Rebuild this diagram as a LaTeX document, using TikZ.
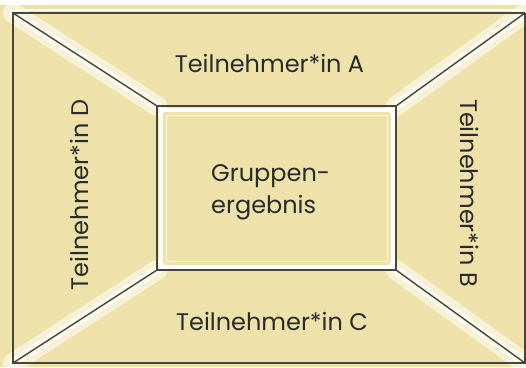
\documentclass[tikz,border=0pt]{standalone}
\usepackage{fontspec}
\setmainfont{Poppins}
\usetikzlibrary{positioning}
\definecolor{sand}{RGB}{238,226,170}
\definecolor{frameline}{RGB}{72,70,58}
\definecolor{labeltext}{RGB}{42,42,42}
\tikzset{%
frame/.style={draw=frameline,line width=2pt},
diagonal/.style={draw=frameline,line width=1.4pt},
haze/.style={draw=white,line width=#1,opacity=0.55,line cap=round},
haze/.default=14pt,
seat/.style={font=\fontsize{24}{28}\selectfont,text=labeltext,inner sep=0pt},
result/.style={font=\fontsize{24}{32}\selectfont,text=labeltext,align=left,inner sep=0pt}
}

\begin{document}
\begin{tikzpicture}[x=1pt,y=-1pt]

    \useasboundingbox (0,0) rectangle (526,367);
    \clip (0,0) rectangle (526,367);
    \fill[sand] (0,0) rectangle (526,367);
    \fill[white] (0,0) rectangle (526,5);

    \coordinate (o-nw) at (13,13);
    \coordinate (o-ne) at (525,13);
    \coordinate (o-sw) at (13,363);
    \coordinate (o-se) at (525,363);
    \coordinate (i-nw) at (157,106);
    \coordinate (i-ne) at (396,106);
    \coordinate (i-sw) at (157,270);
    \coordinate (i-se) at (396,270);

    \foreach \a/\b in {o-nw/i-nw,o-ne/i-ne,o-sw/i-sw,o-se/i-se} {
        \draw[haze=20pt] (\a) -- (\b);
        \draw[haze=9pt] (\a) -- (\b);
    }

    \draw[white,line width=2pt] ([yshift=3.5pt]o-nw) -- ([yshift=3.5pt]o-ne);
    \draw[white,line width=4pt] ([shift={(3.5,3.5)}]i-nw) rectangle ([shift={(-3.5,-3.5)}]i-se);
    \draw[white,line width=1pt,opacity=0.7] ([shift={(9,9)}]i-nw) rectangle ([shift={(-9,-9)}]i-se);

    \draw[frame] (o-ne) -- (o-nw) -- (o-sw) -- (o-se) -- (o-ne);
    \foreach \a/\b in {o-nw/i-nw,o-ne/i-ne,o-sw/i-sw,o-se/i-se}
        \draw[diagonal] (\a) -- (\b);
    \draw[frame] (i-nw) rectangle (i-se);

    \node[seat,anchor=base] (seat-a) at (269.5,72) {Teilnehmer*in A};
    \node[seat,anchor=base,rotate=-90] (seat-b) at (460,193) {Teilnehmer*in B};
    \node[seat,anchor=base] (seat-c) at (272,330) {Teilnehmer*in C};
    \node[seat,anchor=base,rotate=90] (seat-d) at (88,195) {Teilnehmer*in D};
    \node[result,anchor=north west] (result) at (211,164) {Gruppen-\\ergebnis};

\end{tikzpicture}
\end{document}
